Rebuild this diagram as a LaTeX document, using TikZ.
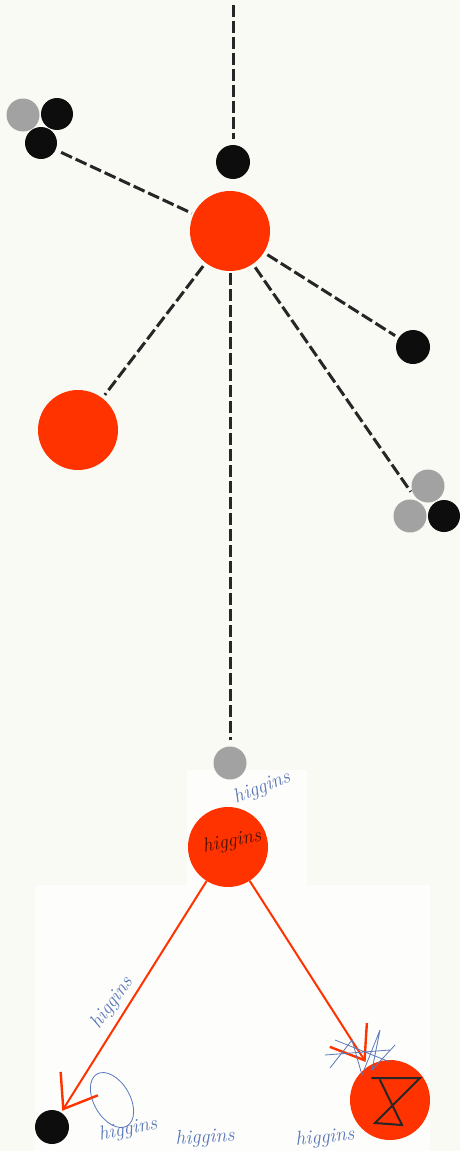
\documentclass[tikz,border=0pt]{standalone}
\usepackage{tikz}
\usepackage{xcolor}
\usetikzlibrary{arrows.meta, positioning, calc}

\definecolor{bgpaper}{HTML}{FAFAF4}
\definecolor{hotred}{HTML}{FF3300}
\definecolor{inkblue}{HTML}{5A78B8}
\definecolor{dotgray}{HTML}{A2A2A2}

\tikzset{
  ball/.style={circle, inner sep=0pt, minimum size=#1},
  bigred/.style={ball=80pt, fill=hotred},
  blackdot/.style={ball=34pt, fill=black!95},
  graydot/.style={ball=33pt, fill=dotgray},
  dline/.style={line width=3pt, black!85, dash pattern=on 12pt off 4pt},
  redarrow/.style={line width=2pt, hotred, -{Straight Barb[length=30pt, width=44pt, line width=2.4pt]}},
  scrawl/.style={inkblue, font=\fontsize{20}{20}\selectfont\itshape},
}

\begin{document}
\begin{tikzpicture}[x=1pt, y=-1pt]
  \useasboundingbox (0,0) rectangle (460,1151);
  \fill[bgpaper] (0,0) rectangle (460,1151);
  % paler paper patches at the bottom
  \fill[white!70!bgpaper] (187,770) rectangle (307,885);
  \fill[white!70!bgpaper] (35,885) rectangle (430,1151);

  % upper cluster
  \coordinate (top) at (233,5);
  \node[blackdot] (bdtop) at (233,162) {};
  \node[bigred] (core) at (230,231) {};
  \node[graydot] (tlg) at (23,115) {};
  \node[blackdot, ball=32pt] (tlb) at (57,114) {};
  \node[blackdot, ball=32pt] (tlc) at (41,143) {};
  \node[blackdot] (bdright) at (413,347) {};
  \node[bigred] (redleft) at (78,430) {};
  \node[graydot] (brg) at (428,486) {};
  \node[graydot] (brh) at (410,516) {};
  \node[blackdot, ball=32pt] (brb) at (444,516) {};

  \draw[dline, shorten >=6pt] (top) -- (bdtop);
  \draw[dline, shorten <=6pt, shorten >=2pt] (tlc) -- (core);
  \draw[dline, shorten <=4pt, shorten >=4pt] (core) -- (bdright);
  \draw[dline, shorten <=4pt, shorten >=4pt] (core) -- (redleft);
  \draw[dline, shorten <=4pt, shorten >=4pt] (core) -- ($(brh)!0.5!(brg)+(-6,-6)$);

  % lower cluster
  \node[graydot] (gmid) at (230,763) {};
  \draw[dline, shorten <=2pt, shorten >=6pt] (core.south) -- (gmid.north);
  \node[bigred] (redmid) at (228,847) {};
  \node[blackdot] (bdlow) at (52,1127) {};
  \node[bigred] (redlow) at (390,1100) {};

  \draw[redarrow, shorten >=2pt] (redmid) -- (bdlow);
  \draw[redarrow, shorten >=5pt] (redmid) -- (redlow);

  % scribbles
  \node[scrawl, rotate=22] (s1) at (262,788) {higgins};
  \node[black!70!hotred, font=\fontsize{20}{20}\selectfont\itshape, rotate=12] (s2) at (232,842) {higgins};
  \node[scrawl, rotate=55] (s3) at (112,1003) {higgins};
  \node[scrawl, rotate=12] (s4) at (128,1130) {higgins};
  \node[scrawl, rotate=4] (s5) at (205,1138) {higgins};
  \node[scrawl, rotate=6] (s6) at (325,1138) {higgins};
  \draw[inkblue, line width=0.8pt, rotate around={30:(112,1100)}] (112,1100) ellipse (18 and 30);
  \draw[inkblue, line width=0.8pt] (330,1068) -- (352,1040) -- (362,1075) -- (380,1030) -- (372,1070) -- (395,1045);
  \draw[inkblue, line width=0.8pt] (325,1055) -- (390,1050) (335,1040) -- (390,1062);
  \draw[black!85, line width=2pt, line cap=round] (372,1078) -- (420,1078) -- (375,1123) -- (402,1125) -- (380,1080);
\end{tikzpicture}
\end{document}
